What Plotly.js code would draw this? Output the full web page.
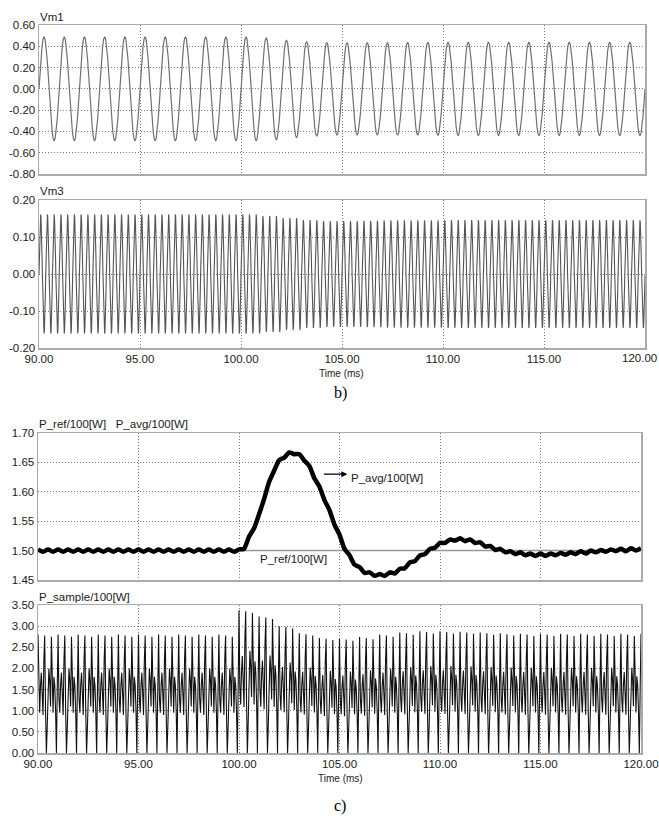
<!DOCTYPE html>
<html>
<head>
<meta charset="utf-8">
<script src="https://cdn.plot.ly/plotly-3.0.1.min.js"></script>
<style>html,body{margin:0;padding:0;background:#fff;}#chart{width:659px;height:816px;}</style>
</head>
<body>
<div id="chart"></div>
<script>
// ---------------- DATA ----------------
const tStart = 90, tEnd = 120;
const xTickVals = [90, 95, 100, 105, 110, 115, 120];
const xTickText = ["90.00", "95.00", "100.00", "105.00", "110.00", "115.00", "120.00"];

// Vm1 : 1 kHz voltage, one-cycle shape (20 samples) and peak amplitude per ms
const cycleShape = [0, 0.309, 0.588, 0.809, 0.951, 1, 0.951, 0.809, 0.588, 0.309,
                    0, -0.309, -0.588, -0.809, -0.951, -1, -0.951, -0.809, -0.588, -0.309];
const vm1Peak = [0.49, 0.49, 0.49, 0.49, 0.49, 0.49, 0.49, 0.49, 0.49, 0.49,
                 0.49, 0.48, 0.46, 0.445, 0.435, 0.435, 0.435, 0.435, 0.437, 0.438,
                 0.44, 0.44, 0.44, 0.44, 0.44, 0.44, 0.44, 0.44, 0.44, 0.44];
const vm1Ticks = [0.6, 0.4, 0.2, 0, -0.2, -0.4, -0.6, -0.8];
const vm1TickText = ["0.60", "0.40", "0.20", "0.00", "-0.20", "-0.40", "-0.60", "-0.80"];

// Vm3 : 3 kHz voltage, peak amplitude per ms
const vm3Peak = [0.161, 0.161, 0.161, 0.161, 0.161, 0.161, 0.161, 0.161, 0.161, 0.161,
                 0.161, 0.157, 0.151, 0.146, 0.143, 0.143, 0.144, 0.145, 0.145, 0.145,
                 0.146, 0.146, 0.146, 0.146, 0.146, 0.146, 0.146, 0.146, 0.146, 0.146];
const vm3Ticks = [0.2, 0.1, 0, -0.1, -0.2];
const vm3TickText = ["0.20", "0.10", "0.00", "-0.10", "-0.20"];

// P_ref and P_avg (every 0.25 ms from 90.00 to 120.00)
const pRefTime = [90, 120];
const pRef = [1.5, 1.5];
const pAvgStep = 0.25;
const pAvg = [
 1.502,1.498,1.502,1.498,1.502,1.498,1.502,1.498,1.502,1.498,
 1.502,1.498,1.502,1.498,1.502,1.498,1.502,1.498,1.502,1.498,
 1.502,1.498,1.502,1.498,1.502,1.498,1.502,1.498,1.502,1.498,
 1.502,1.498,1.502,1.498,1.502,1.498,1.502,1.498,1.502,1.498,
 1.502,1.503,1.524,1.538,1.562,1.588,1.617,1.636,1.654,1.658,
 1.667,1.664,1.664,1.653,1.644,1.623,1.609,1.586,1.569,1.544,
 1.527,1.503,1.492,1.476,1.472,1.462,1.463,1.457,1.460,1.457,
 1.463,1.461,1.469,1.470,1.480,1.482,1.492,1.494,1.503,1.505,
 1.513,1.513,1.519,1.517,1.521,1.516,1.519,1.513,1.514,1.507,
 1.508,1.501,1.503,1.497,1.499,1.494,1.497,1.492,1.495,1.491,
 1.495,1.491,1.495,1.492,1.496,1.493,1.497,1.494,1.499,1.495,
 1.500,1.497,1.501,1.498,1.502,1.499,1.503,1.499,1.504,1.500,
 1.504];
const pAvgTicks = [1.70, 1.65, 1.60, 1.55, 1.50, 1.45];
const pAvgTickText = ["1.70", "1.65", "1.60", "1.55", "1.50", "1.45"];

// P_sample : one 1 ms pattern (24 samples) in steady state, and peak value per ms
const pSampleShape = [2.80, 1.30, 0.95, 1.60, 1.90, 1.40, 0.90, 2.20, 2.78, 1.00, 0.00, 0.60,
                      1.50, 2.00, 1.70, 1.10, 2.75, 1.20, 0.95, 1.80, 1.60, 1.00, 0.00, 1.50];
const pSamplePeak = [2.82, 2.82, 2.82, 2.82, 2.82, 2.82, 2.82, 2.82, 2.82, 2.82,
                     3.40, 3.25, 3.02, 2.85, 2.74, 2.72, 2.76, 2.82, 2.87, 2.90,
                     2.90, 2.89, 2.87, 2.85, 2.84, 2.84, 2.84, 2.84, 2.84, 2.84];
const pSampleTicks = [3.5, 3.0, 2.5, 2.0, 1.5, 1.0, 0.5, 0];
const pSampleTickText = ["3.50", "3.00", "2.50", "2.00", "1.50", "1.00", "0.50", "0.00"];

// ---------------- BUILD TRACES ----------------
function buildWave(peaks, cyclesPerMs, shape) {
  const x = [], y = [];
  for (let c = 0; c < peaks.length; c++) {
    for (let j = 0; j < cyclesPerMs; j++) {
      for (let k = 0; k < shape.length; k++) {
        x.push(tStart + c + (j + k / shape.length) / cyclesPerMs);
        y.push(peaks[c] * shape[k]);
      }
    }
  }
  x.push(tEnd); y.push(peaks[peaks.length - 1] * shape[0]);
  return {x, y};
}
const vm1 = buildWave(vm1Peak, 1, cycleShape);
const vm3 = buildWave(vm3Peak, 3, cycleShape);

const ps = {x: [], y: []};
for (let c = 0; c < pSamplePeak.length; c++) {
  const s = pSamplePeak[c] / pSamplePeak[0];
  for (let k = 0; k < pSampleShape.length; k++) {
    ps.x.push(tStart + c + k / pSampleShape.length);
    ps.y.push(pSampleShape[k] * s);
  }
}
ps.x.push(tEnd); ps.y.push(pSampleShape[0] * pSamplePeak[pSamplePeak.length - 1] / pSamplePeak[0]);

const pAvgTime = pAvg.map((_, i) => tStart + i * pAvgStep);

const traces = [
  {x: vm1.x, y: vm1.y, xaxis: 'x', yaxis: 'y', type: 'scatter', mode: 'lines',
   line: {color: '#707070', width: 1.2}, hoverinfo: 'skip'},
  {x: vm3.x, y: vm3.y, xaxis: 'x2', yaxis: 'y2', type: 'scatter', mode: 'lines',
   line: {color: '#555', width: 1.1}, hoverinfo: 'skip'},
  {x: pRefTime, y: pRef, xaxis: 'x3', yaxis: 'y3', type: 'scatter', mode: 'lines',
   line: {color: '#999', width: 1.5}, hoverinfo: 'skip'},
  {x: pAvgTime, y: pAvg, xaxis: 'x3', yaxis: 'y3', type: 'scatter', mode: 'lines',
   line: {color: '#000', width: 4.5, shape: 'spline', smoothing: 0.6}, hoverinfo: 'skip'},
  {x: ps.x, y: ps.y, xaxis: 'x4', yaxis: 'y4', type: 'scatter', mode: 'lines',
   line: {color: '#111', width: 1.1}, hoverinfo: 'skip'}
];

// ---------------- LAYOUT ----------------
const W = 659, H = 816;
const px = v => v / W;
const py = v => 1 - v / H;
const tickFont = {family: 'Arial, "Liberation Sans", sans-serif', size: 11.5, color: '#1a1a1a'};

function xAxis(domain, anchor, labels, text) {
  return {domain: domain, anchor: anchor, range: [tStart, tEnd], tickvals: xTickVals, ticktext: text || xTickText,
    showticklabels: labels, ticks: '', showgrid: true, gridcolor: '#777', griddash: '1px,2px', gridwidth: 1,
    showline: true, mirror: true, linecolor: '#aaa', linewidth: 1.5, zeroline: false,
    ticklabeloverflow: 'allow', tickfont: tickFont, fixedrange: true};
}
function yAxis(domain, anchor, range, vals, text) {
  return {domain: domain, anchor: anchor, range: range, tickvals: vals, ticktext: text,
    ticks: '', showgrid: true, gridcolor: '#777', griddash: '1px,2px', gridwidth: 1,
    showline: true, mirror: true, linecolor: '#aaa', linewidth: 1.5, zeroline: false,
    tickfont: tickFont, fixedrange: true};
}
const xb = [px(39), px(645)];
const xc = [px(38), px(641)];
// last label of the upper time axis is drawn as an annotation so it stays inside the page
const xTickTextB = xTickText.slice(0, -1).concat([""]);

const layout = {
  width: W, height: H, margin: {l: 0, r: 0, t: 0, b: 0},
  paper_bgcolor: '#fff', plot_bgcolor: '#fff', showlegend: false,
  xaxis: xAxis(xb, 'y', false),
  yaxis: yAxis([py(174), py(25)], 'x', [-0.8, 0.6], vm1Ticks, vm1TickText),
  xaxis2: xAxis(xb, 'y2', true, xTickTextB),
  yaxis2: yAxis([py(348), py(200)], 'x2', [-0.2, 0.2], vm3Ticks, vm3TickText),
  xaxis3: xAxis(xc, 'y3', false),
  yaxis3: yAxis([py(580), py(433)], 'x3', [1.45, 1.70], pAvgTicks, pAvgTickText),
  xaxis4: xAxis(xc, 'y4', true),
  yaxis4: yAxis([py(753), py(605)], 'x4', [0, 3.5], pSampleTicks, pSampleTickText),
  annotations: [
    {text: 'Vm1', xref: 'paper', yref: 'paper', x: px(38), y: py(17), xanchor: 'left', yanchor: 'middle', showarrow: false, font: tickFont},
    {text: 'Vm3', xref: 'paper', yref: 'paper', x: px(38), y: py(191), xanchor: 'left', yanchor: 'middle', showarrow: false, font: tickFont},
    {text: xTickText[xTickText.length - 1], xref: 'paper', yref: 'paper', x: 1, y: py(358), xanchor: 'right', yanchor: 'middle', showarrow: false, font: tickFont},
    {text: 'Time (ms)', xref: 'paper', yref: 'paper', x: px(341), y: py(374), xanchor: 'center', yanchor: 'middle', showarrow: false,
     font: {family: tickFont.family, size: 10, color: '#222'}},
    {text: 'b)', xref: 'paper', yref: 'paper', x: px(340), y: py(393), xanchor: 'center', yanchor: 'middle', showarrow: false,
     font: {family: '"Liberation Serif", "Times New Roman", serif', size: 16, color: '#000'}},
    {text: 'P_ref/100[W]&nbsp;&nbsp;&nbsp;P_avg/100[W]', xref: 'paper', yref: 'paper', x: px(37), y: py(424), xanchor: 'left', yanchor: 'middle', showarrow: false, font: tickFont},
    {text: 'P_sample/100[W]', xref: 'paper', yref: 'paper', x: px(37), y: py(597), xanchor: 'left', yanchor: 'middle', showarrow: false, font: tickFont},
    {text: 'Time (ms)', xref: 'paper', yref: 'paper', x: px(340), y: py(778), xanchor: 'center', yanchor: 'middle', showarrow: false,
     font: {family: tickFont.family, size: 10, color: '#222'}},
    {text: 'c)', xref: 'paper', yref: 'paper', x: px(340), y: py(806), xanchor: 'center', yanchor: 'middle', showarrow: false,
     font: {family: '"Liberation Serif", "Times New Roman", serif', size: 16, color: '#000'}},
    {text: 'P_ref/100[W]', xref: 'x3', yref: 'y3', x: 100.96, y: 1.486, xanchor: 'left', yanchor: 'middle', showarrow: false, font: tickFont},
    {text: '', xref: 'x3', yref: 'y3', x: 105.39, y: 1.630, showarrow: true, arrowhead: 2, arrowsize: 1, arrowwidth: 1.2,
     arrowcolor: '#000', ax: -25, ay: 0, standoff: 0},
    {text: 'P_avg/100[W]', xref: 'x3', yref: 'y3', x: 105.45, y: 1.624, xanchor: 'left', yanchor: 'middle', showarrow: false, font: tickFont}
  ]
};

Plotly.newPlot('chart', traces, layout, {displayModeBar: false, staticPlot: true});
</script>
</body>
</html>
